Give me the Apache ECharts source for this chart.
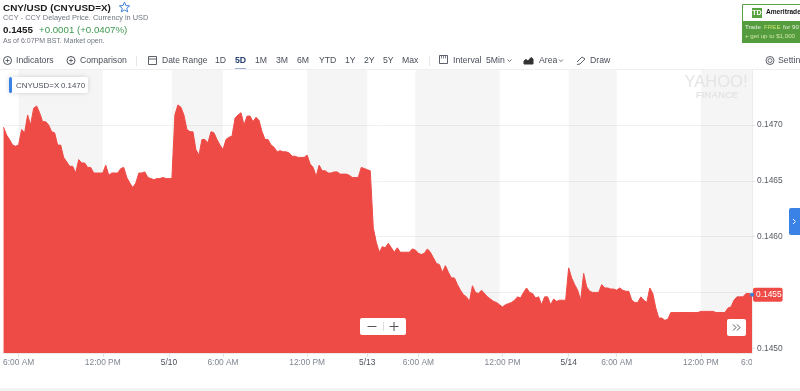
<!DOCTYPE html>
<html><head><meta charset="utf-8">
<style>html,body{margin:0;padding:0;background:#fff;overflow:hidden}#c{width:800px;height:391px}</style>
<script src="https://cdn.jsdelivr.net/npm/echarts@6/dist/echarts.min.js"></script>
</head><body><div id="c"></div>
<script>
const day1 = [14698,14691,14687,14682,14681,14682,14696,14693,14709,14700,14715,14717,14711,14703,14703,14700,14694,14693,14682,14682,14671,14667,14663,14663,14657,14669,14666,14666,14662,14662,14657,14657,14657,14657,14664,14655,14657,14657,14657,14661,14662,14653,14648,14644,14648,14657,14657,14658,14653,14652,14651,14652,14652,14653,14652,14652];
const day2 = [14652,14709,14718,14716,14709,14696,14694,14694,14678,14673,14687,14687,14684,14694,14693,14687,14682,14678,14687,14689,14690,14706,14709,14711,14700,14708,14708,14703,14707,14704,14694,14687,14687,14682,14680,14676,14677,14676,14676,14675,14672,14672,14671,14671,14671,14673,14665,14662,14654,14664,14659,14659,14657,14657,14658,14658,14656,14656,14656,14655,14653,14653,14653,14662,14661,14660];
const day3 = [14659,14608,14595,14586,14591,14590,14594,14590,14586,14590,14586,14586,14586,14586,14589,14588,14585,14584,14585,14589,14586,14581,14576,14575,14568,14574,14568,14563,14563,14557,14552,14548,14546,14542,14556,14550,14549,14552,14549,14546,14544,14542,14541,14539,14537,14539,14540,14541,14543,14546,14545,14550,14554,14550,14549,14545,14546,14539,14546,14546,14539,14544,14542,14543,14543,14543];
const day4 = [14572,14563,14557,14552,14543,14567,14555,14551,14550,14550,14550,14557,14554,14554,14553,14553,14552,14554,14552,14551,14551,14543,14541,14541,14546,14543,14541,14554,14549,14536,14527,14527,14525,14526,14532,14532,14532,14532,14532,14532,14532,14532,14532,14532,14533,14533,14533,14533,14533,14532,14532,14532,14532,14536,14537,14543,14546,14546,14546,14549,14549,14548];
const values = [...day1, ...day2, ...day3, ...day4].map(v => v / 100000);
const tickPoints = [5,33,55,73,101,121,138,166,188,204,232];
const tickLabels = ['6:00 AM','12:00 PM','5/10','6:00 AM','12:00 PM','5/13','6:00 AM','12:00 PM','5/14','6:00 AM','12:00 PM'];
const lastTickLabel = '6:00 PM';
const dateLabels = ['5/10','5/13','5/14'];
const bands = [[5,33],[56,73],[101,121],[137,165],[188,204],[232,values.length-1]];
const yTicks = [0.145,0.1455,0.146,0.1465,0.147];
const categories = values.map((_, i) => { const k = tickPoints.indexOf(i); return k >= 0 ? tickLabels[k] : ''; });

const RED='#ee4b46', BLUE='#3b82e6', FONT='"Liberation Sans", Arial, sans-serif';
const gfx=[];
const Z=50;
function T(x,y,text,size,color,weight,align){gfx.push({type:'text',z:Z,x:x,y:y,style:{text:text,font:(weight||'normal')+' '+size+'px '+FONT,fill:color,verticalAlign:'middle',align:align||'left'}});}
function R(x,y,w,h,fill,extra){gfx.push({type:'rect',z:(extra&&extra.z)||Z,shape:{x:x,y:y,width:w,height:h,r:(extra&&extra.r)||0},style:Object.assign({fill:fill},(extra&&extra.style)||{})});}
function L(x1,y1,x2,y2,c,w){gfx.push({type:'line',z:Z+1,shape:{x1:x1,y1:y1,x2:x2,y2:y2},style:{stroke:c,lineWidth:w||1}});}
function PL(pts,c,w,fill){gfx.push({type:fill?'polygon':'polyline',z:Z+1,shape:{points:pts},style:fill?{fill:fill,stroke:c,lineWidth:w||1}:{stroke:c,fill:null,lineWidth:w||1}});}
function C(x,y,r,c,fill,w){gfx.push({type:'circle',z:Z+1,shape:{cx:x,cy:y,r:r},style:{stroke:c,fill:fill||null,lineWidth:w||1}});}
function chev(x,y,c){PL([[x-2,y-1],[x,y+1],[x+2,y-1]],c,0.8);}

/* header */
T(3,8,'CNY/USD (CNYUSD=X)',9.9,'#1a1a1a','bold');
const sx=124.5,sy=7.5,star=[];for(let i=0;i<10;i++){const r=i%2?2.4:5.4,a=-Math.PI/2+i*Math.PI/5;star.push([sx+r*Math.cos(a),sy+r*Math.sin(a)]);}
PL(star,'#3f7fd9',1,'#ffffff');
T(3,18,'CCY - CCY Delayed Price. Currency in USD',7.4,'#6f7580');
T(3,30,'0.1455',9.8,'#1a1a1a','bold');
T(39,30,'+0.0001 (+0.0407%)',9.7,'#3f9a50');
T(3,41,'As of 6:07PM BST. Market open.',7,'#6f7580');

/* toolbar */
const tb='#4a4f59', tbY=60.5;
C(7.5,tbY,4,tb);L(5.5,tbY,9.5,tbY,tb,.8);L(7.5,tbY-2,7.5,tbY+2,tb,.8);
T(16,tbY,'Indicators',8.7,tb);
C(71,tbY,4,tb);L(69,tbY,73,tbY,tb,.8);L(71,tbY-2,71,tbY+2,tb,.8);
T(80,tbY,'Comparison',8.7,tb);
L(136.5,56,136.5,66,'#e6e6e6');
gfx.push({type:'rect',z:Z+1,shape:{x:148.5,y:56.5,width:8,height:8},style:{fill:null,stroke:tb,lineWidth:.9}});L(148.5,59,156.5,59,tb,.9);
T(162,tbY,'Date Range',8.5,tb);
const ranges=[['1D',215],['5D',235],['1M',255],['3M',276],['6M',297],['YTD',319],['1Y',345],['2Y',364],['5Y',383],['Max',402]];
ranges.forEach(r=>T(r[1],tbY,r[0],8.7,r[0]==='5D'?'#24406e':tb,r[0]==='5D'?'bold':'normal'));
R(235,68.5,11,1.5,'#3b5fa8');
L(429.5,56,429.5,66,'#e6e6e6');
gfx.push({type:'rect',z:Z+1,shape:{x:439.5,y:55.5,width:8,height:8},style:{fill:null,stroke:tb,lineWidth:.9}});L(441.5,56,441.5,58.5,tb,.7);L(443.5,56,443.5,58.5,tb,.7);L(445.5,56,445.5,58.5,tb,.7);
T(453,tbY,'Interval',8.7,tb);T(486,tbY,'5Min',8.7,tb);chev(509.5,tbY,tb);
PL([[524,64],[524,61],[526,59.5],[528,61],[531,57.5],[533,59],[533,64]],'#333','1','#333');
T(539,tbY,'Area',8.7,tb);chev(561,tbY,tb);
PL([[577,62],[582,57],[585,59],[580,64],[577,64.5]],tb,.9);
T(590,tbY,'Draw',8.7,tb);
C(770,tbY,2,tb,null,.8);C(770,tbY,4,tb,null,.9);
T(778,tbY,'Settings',8.7,tb);
L(0,69.5,800,69.5,'#efefef');

/* tooltip-like label */
R(9,77,79,16,'#ffffff',{r:2,style:{shadowBlur:5,shadowColor:'rgba(0,0,0,0.16)'}});
R(9,77,3,16,BLUE,{r:1.5,z:Z+1});
T(16,85.5,'CNYUSD=X',7.9,'#4a4f59');T(61,85.5,'0.1470',7.9,'#4a4f59');

/* watermark */
T(716,82.5,'YAHOO!',16.5,'#e4e4e4','normal','center');
T(717,95,'FINANCE',9.5,'#e4e4e4','bold','center');

/* ad */
gfx.push({type:'rect',z:Z,shape:{x:742.5,y:4.5,width:60,height:17},style:{fill:'#fff',stroke:'#5aa142',lineWidth:1}});
R(752,8,10,10,'#5aa142');T(757,13,'TD',7,'#fff','bold','center');
T(766,12.5,'Ameritrade',6.6,'#111','bold');
R(742,21,60,22,'#549c3e');
T(745,27.5,'Trade',6.2,'#e8f3e2');T(764,27.5,'FREE',6.2,'#c9e56a');T(783,27.5,'for 90',6.2,'#e8f3e2');
T(745,36.5,'+ get up to $1,000',6.2,'#d4e8a8');

/* controls */
R(360,318,46,17,'#ffffff',{r:2});
L(367.5,326.5,376.5,326.5,'#555',1);L(389.5,326.5,398.5,326.5,'#555',1);L(394,322,394,331,'#555',1);L(383.5,322,383.5,331,'#dddddd',1);
R(727,319,19,17,'#ffffff',{r:2});
PL([[733,324.5],[736,327.5],[733,330.5]],'#555',1);PL([[737,324.5],[740,327.5],[737,330.5]],'#555',1);
R(789,208,14,27,BLUE,{r:2});
PL([[793,219],[795.5,221.5],[793,224]],'#ffffff',1);

/* clipped edge labels & bottom strip */
T(741,363,lastTickLabel,8.4,'#7f8590');
R(0,355,3,16,'#ffffff',{z:Z+5});
R(752,355,48,16,'#ffffff',{z:Z+5});
R(0,388,800,3,'#f4f4f4');

const chart=echarts.init(document.getElementById('c'),null,{renderer:'canvas'});
chart.setOption({
  animation:false,
  textStyle:{fontFamily:FONT},
  grid:{left:3,right:48,top:70,bottom:38,containLabel:false},
  xAxis:{type:'category',data:categories,boundaryGap:false,
    axisLine:{lineStyle:{color:'#e8e8e8'}},
    axisTick:{length:4,lineStyle:{color:'#e0e0e0'},interval:(i)=>tickPoints.includes(i)},
    axisLabel:{interval:(i)=>tickPoints.includes(i),fontSize:8.4,margin:6,
      color:(v)=>dateLabels.includes(v)?'#4a4f59':'#7f8590'},
    splitLine:{show:false}},
  yAxis:{type:'value',position:'right',min:0.144957,max:0.147493,
    axisLine:{show:true,lineStyle:{color:'#ececec'}},
    axisTick:{show:true,length:3,lineStyle:{color:'#e0e0e0'},customValues:yTicks},
    axisLabel:{customValues:yTicks,formatter:(v)=>v.toFixed(4),fontSize:8.4,margin:5,color:'#555a63'},
    splitLine:{show:true,lineStyle:{color:'#f1f1f1',width:1}}},
  series:[
    {type:'line',z:1,data:[],silent:true,
      markArea:{silent:true,itemStyle:{color:'rgba(0,0,0,0.04)'},
        data:bands.map(b=>[{xAxis:b[0]},{xAxis:b[1]}])}},
    {type:'line',z:3,data:values,symbol:'none',smooth:false,showSymbol:false,clip:false,
      lineStyle:{color:RED,width:1},areaStyle:{color:RED,opacity:1},itemStyle:{color:RED},
      endLabel:{show:true,formatter:'0.1455',color:'#ffffff',backgroundColor:RED,fontSize:8.4,
        padding:[3,1,3,3],borderRadius:2,distance:0,offset:[1,0]},
      markPoint:{silent:true,symbol:'circle',symbolSize:4,itemStyle:{color:'#3f7fd9'},label:{show:false},
        data:[{coord:[values.length-1,values[values.length-1]]}]}}
  ],
  graphic:{elements:gfx}
});
</script></body></html>
